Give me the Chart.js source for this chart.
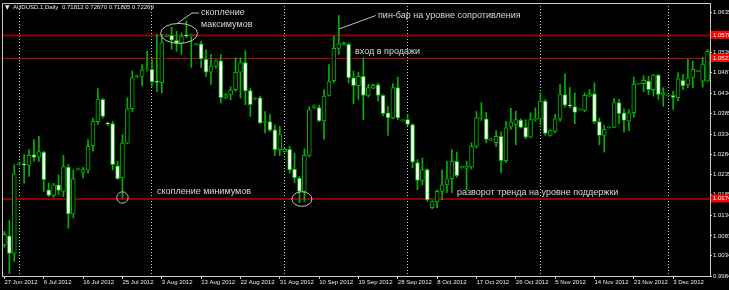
<!DOCTYPE html>
<html>
<head>
<meta charset="utf-8">
<title>AUDUSD Daily</title>
<script src="https://cdn.jsdelivr.net/npm/chart.js@4.4.0/dist/chart.umd.min.js"></script>
<style>
html, body { margin: 0; padding: 0; background: #000; overflow: hidden; }
canvas { display: block; }
</style>
</head>
<body>
<canvas id="myChart" width="729" height="290"></canvas>
<script>
// daily candles, 27 Jun 2012 .. 11 Dec 2012 (MT4 keeps the Sunday bars)
var opens = [
    1.0061, 1.0083, 1.0040, 1.0259, 1.0261, 1.0257, 1.0284, 1.0278, 1.0290, 1.0197, 1.0183, 1.0209,
    1.0193, 1.0253, 1.0137, 1.0246, 1.0240, 1.0245, 1.0306, 1.0365, 1.0420, 1.0361, 1.0360, 1.0256,
    1.0226, 1.0312, 1.0397, 1.0476, 1.0477, 1.0493, 1.0494, 1.0463, 1.0461, 1.0576, 1.0578, 1.0566,
    1.0558, 1.0578, 1.0577, 1.0555, 1.0557, 1.0519, 1.0487, 1.0502, 1.0515, 1.0425, 1.0431, 1.0444,
    1.0487, 1.0511, 1.0442, 1.0421, 1.0424, 1.0363, 1.0365, 1.0345, 1.0296, 1.0291, 1.0297, 1.0248,
    1.0226, 1.0193, 1.0282, 1.0400, 1.0400, 1.0367, 1.0430, 1.0466, 1.0546, 1.0556, 1.0556, 1.0473,
    1.0454, 1.0477, 1.0430, 1.0448, 1.0456, 1.0430, 1.0387, 1.0374, 1.0449, 1.0367, 1.0370, 1.0358,
    1.0264, 1.0220, 1.0247, 1.0153, 1.0167, 1.0193, 1.0209, 1.0224, 1.0267, 1.0252, 1.0250, 1.0253,
    1.0304, 1.0374, 1.0372, 1.0320, 1.0313, 1.0329, 1.0269, 1.0352, 1.0358, 1.0369, 1.0351, 1.0327,
    1.0370, 1.0372, 1.0416, 1.0331, 1.0341, 1.0372, 1.0432, 1.0406, 1.0402, 1.0394, 1.0393, 1.0428,
    1.0434, 1.0365, 1.0331, 1.0350, 1.0351, 1.0412, 1.0387, 1.0366, 1.0387, 1.0458, 1.0459, 1.0465,
    1.0444, 1.0480, 1.0432, 1.0429, 1.0430, 1.0424, 1.0467, 1.0456, 1.0474, 1.0489, 1.0465, 1.0465
];
var highs = [
    1.0094, 1.0122, 1.0259, 1.0263, 1.0284, 1.0296, 1.0321, 1.0329, 1.0292, 1.0213, 1.0213, 1.0234,
    1.0282, 1.0259, 1.0246, 1.0251, 1.0252, 1.0321, 1.0374, 1.0447, 1.0422, 1.0364, 1.0366, 1.0267,
    1.0333, 1.0424, 1.0490, 1.0480, 1.0506, 1.0539, 1.0519, 1.0581, 1.0581, 1.0580, 1.0598, 1.0588,
    1.0584, 1.0614, 1.0581, 1.0558, 1.0564, 1.0543, 1.0531, 1.0518, 1.0531, 1.0435, 1.0451, 1.0523,
    1.0523, 1.0540, 1.0448, 1.0424, 1.0428, 1.0390, 1.0383, 1.0357, 1.0353, 1.0300, 1.0304, 1.0287,
    1.0230, 1.0298, 1.0402, 1.0406, 1.0406, 1.0444, 1.0506, 1.0576, 1.0627, 1.0562, 1.0560, 1.0490,
    1.0487, 1.0523, 1.0457, 1.0458, 1.0460, 1.0432, 1.0403, 1.0459, 1.0475, 1.0370, 1.0383, 1.0360,
    1.0271, 1.0275, 1.0249, 1.0170, 1.0197, 1.0246, 1.0267, 1.0296, 1.0290, 1.0255, 1.0267, 1.0313,
    1.0390, 1.0412, 1.0388, 1.0324, 1.0343, 1.0340, 1.0366, 1.0398, 1.0391, 1.0372, 1.0370, 1.0387,
    1.0399, 1.0436, 1.0420, 1.0345, 1.0383, 1.0457, 1.0483, 1.0449, 1.0436, 1.0397, 1.0436, 1.0444,
    1.0461, 1.0374, 1.0356, 1.0352, 1.0422, 1.0420, 1.0397, 1.0395, 1.0475, 1.0460, 1.0479, 1.0477,
    1.0482, 1.0482, 1.0449, 1.0431, 1.0440, 1.0486, 1.0482, 1.0519, 1.0515, 1.0491, 1.0524, 1.0543
];
var lows = [
    1.0055, 0.9990, 1.0020, 1.0257, 1.0213, 1.0230, 1.0267, 1.0267, 1.0193, 1.0180, 1.0178, 1.0185,
    1.0180, 1.0102, 1.0127, 1.0245, 1.0226, 1.0238, 1.0292, 1.0358, 1.0374, 1.0356, 1.0246, 1.0222,
    1.0176, 1.0310, 1.0389, 1.0474, 1.0453, 1.0490, 1.0453, 1.0439, 1.0436, 1.0575, 1.0544, 1.0539,
    1.0531, 1.0573, 1.0499, 1.0554, 1.0499, 1.0477, 1.0457, 1.0497, 1.0411, 1.0422, 1.0419, 1.0440,
    1.0423, 1.0407, 1.0378, 1.0419, 1.0360, 1.0337, 1.0341, 1.0281, 1.0281, 1.0290, 1.0238, 1.0214,
    1.0165, 1.0168, 1.0278, 1.0398, 1.0365, 1.0322, 1.0428, 1.0462, 1.0531, 1.0554, 1.0461, 1.0409,
    1.0420, 1.0370, 1.0426, 1.0446, 1.0416, 1.0380, 1.0331, 1.0372, 1.0370, 1.0366, 1.0355, 1.0251,
    1.0197, 1.0209, 1.0168, 1.0150, 1.0152, 1.0172, 1.0190, 1.0190, 1.0228, 1.0250, 1.0197, 1.0248,
    1.0300, 1.0368, 1.0313, 1.0318, 1.0303, 1.0239, 1.0264, 1.0346, 1.0308, 1.0349, 1.0323, 1.0325,
    1.0366, 1.0358, 1.0331, 1.0329, 1.0337, 1.0366, 1.0400, 1.0399, 1.0360, 1.0393, 1.0390, 1.0427,
    1.0360, 1.0308, 1.0290, 1.0349, 1.0350, 1.0360, 1.0339, 1.0343, 1.0376, 1.0457, 1.0439, 1.0432,
    1.0428, 1.0420, 1.0403, 1.0428, 1.0395, 1.0416, 1.0444, 1.0449, 1.0449, 1.0488, 1.0450, 1.0464
];
var closes = [
    1.0087, 1.0040, 1.0236, 1.0261, 1.0258, 1.0282, 1.0277, 1.0291, 1.0222, 1.0183, 1.0209, 1.0195,
    1.0254, 1.0137, 1.0224, 1.0248, 1.0247, 1.0304, 1.0366, 1.0421, 1.0378, 1.0359, 1.0259, 1.0224,
    1.0312, 1.0397, 1.0473, 1.0478, 1.0493, 1.0494, 1.0463, 1.0462, 1.0560, 1.0578, 1.0566, 1.0558,
    1.0575, 1.0577, 1.0578, 1.0556, 1.0520, 1.0487, 1.0502, 1.0515, 1.0424, 1.0431, 1.0443, 1.0487,
    1.0511, 1.0441, 1.0407, 1.0423, 1.0362, 1.0364, 1.0344, 1.0296, 1.0333, 1.0297, 1.0246, 1.0226,
    1.0193, 1.0282, 1.0395, 1.0404, 1.0367, 1.0428, 1.0464, 1.0546, 1.0558, 1.0560, 1.0473, 1.0454,
    1.0477, 1.0430, 1.0449, 1.0455, 1.0430, 1.0385, 1.0374, 1.0449, 1.0374, 1.0369, 1.0358, 1.0265,
    1.0220, 1.0247, 1.0172, 1.0168, 1.0193, 1.0209, 1.0224, 1.0267, 1.0232, 1.0253, 1.0254, 1.0304,
    1.0374, 1.0376, 1.0321, 1.0322, 1.0329, 1.0269, 1.0350, 1.0364, 1.0370, 1.0351, 1.0327, 1.0370,
    1.0372, 1.0416, 1.0336, 1.0343, 1.0372, 1.0432, 1.0406, 1.0404, 1.0388, 1.0395, 1.0430, 1.0434,
    1.0365, 1.0331, 1.0346, 1.0351, 1.0412, 1.0385, 1.0368, 1.0387, 1.0457, 1.0459, 1.0467, 1.0444,
    1.0480, 1.0432, 1.0437, 1.0430, 1.0425, 1.0471, 1.0453, 1.0473, 1.0494, 1.0490, 1.0506, 1.0539
];

var dateTicks = ['27 Jun 2012', '6 Jul 2012', '16 Jul 2012', '25 Jul 2012', '3 Aug 2012', '13 Aug 2012',
    '22 Aug 2012', '31 Aug 2012', '10 Sep 2012', '19 Sep 2012', '28 Sep 2012', '8 Oct 2012',
    '17 Oct 2012', '26 Oct 2012', '5 Nov 2012', '14 Nov 2012', '23 Nov 2012', '3 Dec 2012'];
var priceTicks = [1.0635, 1.0536, 1.0487, 1.0434, 1.0385, 1.0334, 1.0284, 1.0235, 1.0185,
    1.0134, 1.0083, 1.0034, 0.9984];
var levels = [1.0578, 1.0521, 1.0174];   // resistance, entry, support
var header = ['AUDUSD.1,Daily', '0.71812 0.72670 0.71805 0.72269'];

// build the bar dates: every calendar day except Saturday
var monthNames = ['Jan', 'Feb', 'Mar', 'Apr', 'May', 'Jun', 'Jul', 'Aug', 'Sep', 'Oct', 'Nov', 'Dec'];
var dates = [];
var months = [];
var day = new Date(2012, 5, 27);
while (dates.length < closes.length) {
    if (day.getDay() !== 6) {
        dates.push(day.getDate() + ' ' + monthNames[day.getMonth()] + ' ' + day.getFullYear());
        months.push(day.getMonth());
    }
    day.setDate(day.getDate() + 1);
}
var monthStarts = [];
for (var m = 1; m < months.length; m++) {
    if (months[m] !== months[m - 1]) monthStarts.push(m);
}

var bodies = [], wicks = [], bodyFill = [];
for (var i = 0; i < closes.length; i++) {
    bodies.push([opens[i], closes[i]]);
    wicks.push([lows[i], highs[i]]);
    bodyFill.push(closes[i] >= opens[i] ? '#000000' : '#ffffff');
}

var GREEN = '#00b400';
var AXIS = '#c8c8c8';
var SMALL = '"Liberation Sans", Arial, sans-serif';

var background = {
    id: 'background',
    beforeDraw: function (chart) {
        var c = chart.ctx;
        c.save();
        c.fillStyle = '#000';
        c.fillRect(0, 0, chart.width, chart.height);
        c.restore();
    }
};

var levelStyle = [
    { color: '#8c0000', width: 2 },
    { color: '#c80000', width: 1 },
    { color: '#8c0000', width: 2 }
];

var levelLines = {
    id: 'levelLines',
    beforeDatasetsDraw: function (chart) {
        var c = chart.ctx, a = chart.chartArea, y = chart.scales.y;
        c.save();
        levels.forEach(function (v, k) {
            var py = y.getPixelForValue(v);
            c.strokeStyle = levelStyle[k].color;
            c.lineWidth = levelStyle[k].width;
            c.beginPath();
            c.moveTo(a.left, py);
            c.lineTo(a.right, py);
            c.stroke();
        });
        c.restore();
    }
};

var notes = {
    id: 'notes',
    afterDraw: function (chart) {
        var c = chart.ctx, a = chart.chartArea, x = chart.scales.x, y = chart.scales.y;
        c.save();

        // frame left / top
        c.strokeStyle = AXIS;
        c.lineWidth = 1;
        c.beginPath();
        c.moveTo(a.left + 0.5, a.bottom);
        c.lineTo(a.left + 0.5, a.top + 0.5);
        c.lineTo(a.right, a.top + 0.5);
        c.stroke();

        // price labels of the horizontal levels
        c.font = '6px ' + SMALL;
        c.textBaseline = 'middle';
        c.textAlign = 'left';
        levels.forEach(function (v) {
            var py = y.getPixelForValue(v);
            c.fillStyle = '#ff0000';
            c.fillRect(a.right + 1, py - 4.5, chart.width - a.right, 8);
            c.fillStyle = '#ffffff';
            c.fillText(v.toFixed(4), a.right + 3, py - 0.5);
        });

        // symbol header
        c.fillStyle = '#e8e8e8';
        c.font = '6px "DejaVu Sans", sans-serif';
        c.fillText('\u25BC', 5, 7.5);
        c.font = '6px ' + SMALL;
        c.fillText(header[0], 13, 7.5);
        c.fillText(header[1], 62, 7.5);

        // annotations
        c.strokeStyle = '#c0c0c0';
        c.lineWidth = 1;
        var cx1 = (x.getPixelForValue(33) + x.getPixelForValue(38)) / 2;
        var cy1 = y.getPixelForValue(levels[0]) - 2;
        c.beginPath();
        c.ellipse(cx1, cy1, 18.5, 10, 0, 0, Math.PI * 2);
        c.stroke();
        c.beginPath();
        c.moveTo(cx1 - 1.5, cy1 - 10);
        c.lineTo(cx1 + 13, 13);
        c.lineTo(cx1 + 20, 13);
        c.stroke();

        var cx2 = x.getPixelForValue(24);
        var cy2 = y.getPixelForValue(levels[2]) - 1.5;
        c.beginPath();
        c.arc(cx2, cy2, 5.7, 0, Math.PI * 2);
        c.stroke();

        var cx3 = (x.getPixelForValue(60) + x.getPixelForValue(61)) / 2;
        var cy3 = y.getPixelForValue(levels[2]);
        c.beginPath();
        c.ellipse(cx3, cy3, 10, 7.3, 0, 0, Math.PI * 2);
        c.stroke();

        var pinX = x.getPixelForValue(68);
        c.beginPath();
        c.moveTo(pinX, 29);
        c.lineTo(pinX + 37, 15.5);
        c.stroke();

        c.fillStyle = '#d8d8d8';
        c.font = '9px ' + SMALL;
        c.fillText('скопление', 201, 13);
        c.fillText('максимумов', 201, 25);
        c.fillText('пин-бар на уровне сопротивления', 378, 16);
        c.fillText('вход в продажи', 355, 51.5);
        c.fillText('скопление минимумов', 157, 191.5);
        c.fillText('разворот тренда на уровне поддержки', 457, 193);
        c.restore();
    }
};

var ctx = document.getElementById('myChart').getContext('2d');
var myChart = new Chart(ctx, {
    type: 'bar',
    data: {
        labels: dates,
        datasets: [{
            label: 'body',
            data: bodies,
            backgroundColor: bodyFill,
            borderColor: GREEN,
            borderWidth: 1,
            borderSkipped: false,
            barThickness: 4,
            minBarLength: 1,
            grouped: false,
            order: 0
        },
        {
            label: 'wick',
            data: wicks,
            backgroundColor: GREEN,
            borderWidth: 0,
            barThickness: 1,
            grouped: false,
            order: 1
        }]
    },
    options: {
        responsive: false,
        animation: false,
        devicePixelRatio: 1,
        layout: { padding: { left: 2, top: 3, right: 0, bottom: 0 } },
        plugins: {
            legend: { display: false },
            tooltip: { enabled: false }
        },
        scales: {
            x: {
                offset: true,
                ticks: {
                    autoSkip: false,
                    maxRotation: 0,
                    minRotation: 0,
                    align: 'start',
                    padding: 0,
                    color: '#e8e8e8',
                    font: { family: SMALL, size: 6 },
                    callback: function (value, index) {
                        return dateTicks.indexOf(dates[index]) >= 0 ? dates[index] : '';
                    }
                },
                grid: {
                    offset: false,
                    drawOnChartArea: true,
                    tickLength: 3,
                    lineWidth: 1,
                    color: function (c) {
                        return monthStarts.indexOf(c.index) >= 0 ? AXIS : 'rgba(0,0,0,0)';
                    },
                    tickColor: function (c) {
                        return dateTicks.indexOf(dates[c.index]) >= 0 ? AXIS : 'rgba(0,0,0,0)';
                    }
                },
                border: { display: true, color: AXIS, width: 1, dash: [1, 2] },
                afterFit: function (s) {
                    s.height = 14;
                    s.paddingLeft = 0;
                    s.paddingRight = 0;
                }
            },
            y: {
                position: 'right',
                min: 0.9984,
                max: 1.0658,
                afterBuildTicks: function (s) {
                    s.ticks = priceTicks.map(function (v) { return { value: v }; });
                },
                ticks: {
                    padding: 1,
                    color: '#e8e8e8',
                    font: { family: SMALL, size: 6 },
                    callback: function (v) { return Number(v).toFixed(4); }
                },
                grid: {
                    drawOnChartArea: false,
                    tickLength: 2,
                    tickColor: AXIS
                },
                border: { display: true, color: AXIS, width: 1 },
                afterFit: function (s) {
                    s.width = 19;
                    s.paddingTop = 0;
                    s.paddingBottom = 0;
                }
            }
        }
    },
    plugins: [background, levelLines, notes]
});
</script>
</body>
</html>
